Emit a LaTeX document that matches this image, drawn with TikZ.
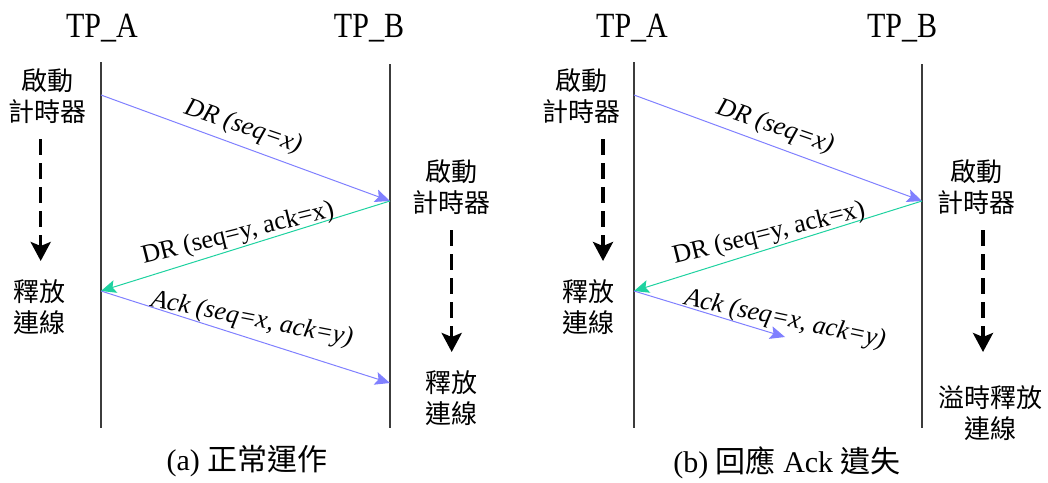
\documentclass[tikz,border=0pt]{standalone}
\usepackage{fontspec}
\setmainfont{Liberation Serif}
\newfontfamily\cjk{Noto Sans CJK TC}
\usetikzlibrary{arrows.meta}
\definecolor{msgblue}{RGB}{128,128,255}
\definecolor{msggreen}{RGB}{30,210,160}
\definecolor{lifegray}{RGB}{60,60,60}
\tikzset{
 lifeline/.style={draw=lifegray, line width=1.3pt},
 msgarrow/.style={line width=1pt, -{Stealth[length=15pt,width=13pt,inset=3pt]}},
 timerarrow/.style={line width=3.5pt, dash pattern=on 16pt off 8pt, -{Stealth[length=19pt,width=20pt,inset=4pt]}},
 header/.style={font=\fontsize{30}{36}\selectfont, inner sep=0pt, yscale=1.18, transform shape},
 cjklabel/.style={font=\cjk\fontsize{26}{31}\selectfont, align=center, inner sep=0pt},
 msglabel/.style={font=\fontsize{26}{31}\selectfont, inner sep=0pt},
 caption/.style={font=\fontsize{30}{36}\selectfont, inner sep=0pt},
}
\begin{document}
\begin{tikzpicture}[x=1pt,y=-1pt]
\useasboundingbox (0,0) rectangle (1048,482);
% ---------- panel (a) ----------
\node[header] (hA1) at (102,28) {TP\_A};
\node[header] (hB1) at (369,28) {TP\_B};
\coordinate (la-top) at (101,62);
\coordinate (la-bot) at (101,428);
\coordinate (lb-top) at (390,64);
\coordinate (lb-bot) at (390,428);
\draw[lifeline] (la-top) -- (la-bot);
\draw[lifeline] (lb-top) -- (lb-bot);
\coordinate (la1) at (101,95);
\coordinate (lb1) at (390,201);
\coordinate (la2) at (101,291);
\coordinate (lb2) at (390,383);
\draw[msgarrow, msgblue] (la1) -- (lb1);
\draw[msgarrow, msggreen] (lb1) -- (la2);
\draw[msgarrow, msgblue] (la2) -- (lb2);
\node[msglabel, rotate=-19] (m1a) at (243,127) {\itshape DR (seq=x)};
\node[msglabel, rotate=14] (m2a) at (238,234) {DR (seq=y, ack=x)};
\node[msglabel, rotate=-11] (m3a) at (252,320) {\itshape Ack (seq=x, ack=y)};
\node[cjklabel] (startA1) at (48,96) {啟動\\計時器};
\node[cjklabel] (relA1) at (39,307) {釋放\\連線};
\node[cjklabel] (startB1) at (451,187) {啟動\\計時器};
\node[cjklabel] (relB1) at (451,398) {釋放\\連線};
\coordinate (ta1s) at (40.7,139);
\coordinate (ta1e) at (40.7,261);
\coordinate (tb1s) at (451.7,230);
\coordinate (tb1e) at (451.7,352);
\draw[timerarrow] (ta1s) -- (ta1e);
\draw[timerarrow] (tb1s) -- (tb1e);
\node[caption] (capA) at (247,461) {(a) {\cjk 正常運作}};
% ---------- panel (b) ----------
\node[header] (hA2) at (632,28) {TP\_A};
\node[header] (hB2) at (902,28) {TP\_B};
\coordinate (ra-top) at (634,62);
\coordinate (ra-bot) at (634,428);
\coordinate (rb-top) at (922,64);
\coordinate (rb-bot) at (922,428);
\draw[lifeline] (ra-top) -- (ra-bot);
\draw[lifeline] (rb-top) -- (rb-bot);
\coordinate (ra1) at (634,95);
\coordinate (rb1) at (922,201);
\coordinate (ra2) at (634,291);
\coordinate (rlost) at (785,337);
\draw[msgarrow, msgblue] (ra1) -- (rb1);
\draw[msgarrow, msggreen] (rb1) -- (ra2);
\draw[msgarrow, msgblue] (ra2) -- (rlost);
\node[msglabel, rotate=-19] (m1b) at (775,127) {\itshape DR (seq=x)};
\node[msglabel, rotate=14] (m2b) at (769,234) {DR (seq=y, ack=x)};
\node[msglabel, rotate=-12] (m3b) at (785,320) {\itshape Ack (seq=x, ack=y)};
\node[cjklabel] (startA2) at (581,96) {啟動\\計時器};
\node[cjklabel] (relA2) at (588,307) {釋放\\連線};
\node[cjklabel] (startB2) at (976,187) {啟動\\計時器};
\node[cjklabel] (relB2) at (990,413) {溢時釋放\\連線};
\coordinate (ta2s) at (603,139);
\coordinate (ta2e) at (603,261);
\coordinate (tb2s) at (983,230);
\coordinate (tb2e) at (983,352);
\draw[timerarrow] (ta2s) -- (ta2e);
\draw[timerarrow] (tb2s) -- (tb2e);
\node[caption] (capB) at (787,463) {(b) {\cjk 回應} Ack {\cjk 遺失}};
\end{tikzpicture}
\end{document}
